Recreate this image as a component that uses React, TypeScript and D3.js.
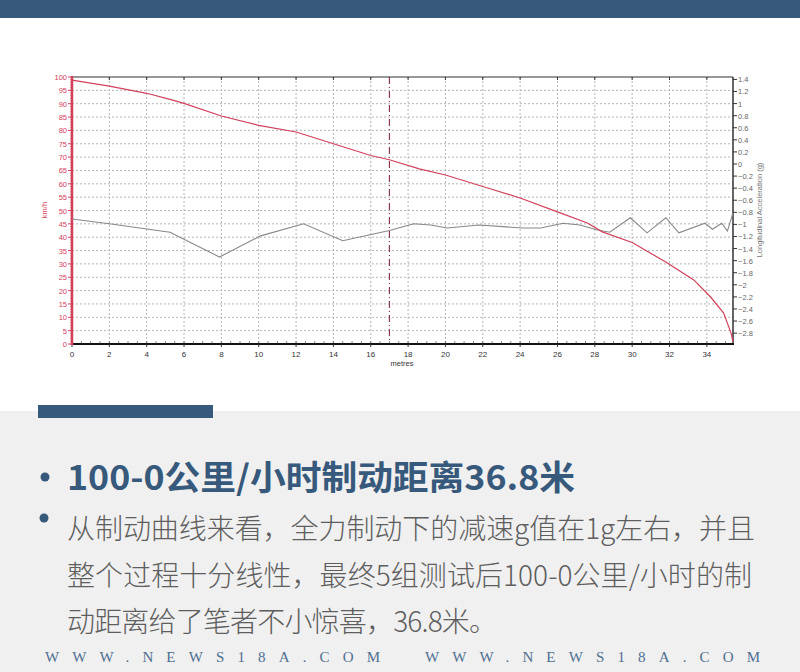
import React from "react";
import * as d3 from "d3";

// ---- data ----
const speedDist = [0, 2, 4, 5.25, 6, 8, 10, 12, 14, 16, 17, 18.6, 20, 22, 24, 26, 27.6, 28.4, 30, 31.8, 33.3, 34.2, 34.9, 35.3, 35.4];
const speedKmh = [98.8, 96.6, 93.9, 91.6, 90.1, 85.4, 81.9, 79.4, 75, 70.6, 69, 65.6, 63.3, 59, 54.7, 49.5, 45.3, 42, 38, 30.7, 24, 17.6, 11.6, 4, 0.8];
const accDist = [0, 2, 5.25, 7.9, 10.1, 12.4, 14.5, 17, 18.3, 19.2, 20.1, 21.8, 24.1, 25.1, 26.3, 27.2, 28.1, 28.8, 29.9, 30.8, 31.8, 32.5, 33.9, 34.3, 34.8, 35.1, 35.4];
const accG = [-0.91, -0.99, -1.13, -1.54, -1.19, -0.99, -1.27, -1.1, -0.99, -1.01, -1.06, -1.01, -1.06, -1.06, -0.98, -1.01, -1.09, -1.13, -0.89, -1.14, -0.89, -1.14, -0.98, -1.08, -0.98, -1.11, -0.81];
const xTicks = [0, 2, 4, 6, 8, 10, 12, 14, 16, 18, 20, 22, 24, 26, 28, 30, 32, 34];
const leftTicks = [0, 5, 10, 15, 20, 25, 30, 35, 40, 45, 50, 55, 60, 65, 70, 75, 80, 85, 90, 95, 100];
const rightTicks = [1.4, 1.2, 1, 0.8, 0.6, 0.4, 0.2, 0, -0.2, -0.4, -0.6, -0.8, -1, -1.2, -1.4, -1.6, -1.8, -2, -2.2, -2.4, -2.6, -2.8];
const markerDist = 17;
const title = "100-0公里/小时制动距离36.8米";
const bodyLines = [
  "从制动曲线来看，全力制动下的减速g值在1g左右，并且",
  "整个过程十分线性，最终5组测试后100-0公里/小时的制",
  "动距离给了笔者不小惊喜，36.8米。",
];
const watermark = "WWW.NEWS18A.COM";

const NAVY = "#37597b";
const RED = "#d2405a";

export default function App() {
  const L = 72, R = 733, T = 77, B = 344;
  const x = d3.scaleLinear().domain([0, 35.4]).range([L, R]);
  const yL = d3.scaleLinear().domain([0, 100]).range([B, T]);
  const yR = d3.scaleLinear().domain([-2.98, 1.44]).range([B, T]);

  const speedLine = d3.line<number>().x((_, i) => x(speedDist[i])).y((d) => yL(d))(speedKmh) || "";
  const accLine = d3.line<number>().x((_, i) => x(accDist[i])).y((d) => yR(d))(accG) || "";
  const minor = d3.range(0, 35.4, 0.5);
  const chartFont = "'Liberation Sans', Arial, sans-serif";
  const lineW = [688, 685, 430];
  const lineY = [539, 586, 632];

  return (
    <svg width={800} height={672} style={{ position: "absolute", left: 0, top: 0 }}>
      <rect x={0} y={0} width={800} height={672} fill="#ffffff" />
      <rect x={0} y={411} width={800} height={261} fill="#f0f0f0" />
      <rect x={0} y={0} width={800} height={18} fill={NAVY} />
      <rect x={38} y={405} width={175} height={13} fill={NAVY} />

      {/* grid */}
      {leftTicks.filter((v) => v > 0 && v < 100).map((v) => (
        <line key={"h" + v} x1={L} x2={R} y1={yL(v)} y2={yL(v)} stroke="#b4b4b4" strokeWidth={1} strokeDasharray="2,2" />
      ))}
      {xTicks.filter((v) => v > 0).map((v) => (
        <line key={"v" + v} x1={x(v)} x2={x(v)} y1={T} y2={B} stroke="#b4b4b4" strokeWidth={1} strokeDasharray="2,2" />
      ))}
      {/* marker */}
      <line x1={x(markerDist)} x2={x(markerDist)} y1={T} y2={B} stroke="#8a3a4c" strokeWidth={1.2} strokeDasharray="7,3,1,3" />

      {/* frame */}
      <line x1={L} x2={R} y1={T} y2={T} stroke="#333" strokeWidth={1.2} />
      <line x1={R} x2={R} y1={T} y2={B} stroke="#333" strokeWidth={1.5} />
      <line x1={L} x2={R + 1} y1={B} y2={B} stroke="#111" strokeWidth={2} />
      {xTicks.map((v) => (
        <g key={"xt" + v}>
          <line x1={x(v)} x2={x(v)} y1={T} y2={T + 3} stroke="#333" />
          <line x1={x(v)} x2={x(v)} y1={B} y2={B + 3} stroke="#333" />
          <text x={x(v)} y={B + 13} fontSize={8} fontFamily={chartFont} fill="#333" textAnchor="middle">{v}</text>
        </g>
      ))}
      {minor.map((v) => (
        <line key={"mn" + v} x1={x(v)} x2={x(v)} y1={B - 3} y2={B} stroke="#333" strokeWidth={0.6} />
      ))}
      <text x={402} y={366} fontSize={7.5} fontFamily={chartFont} fill="#333" textAnchor="middle">metres</text>

      {/* left axis */}
      <line x1={L} x2={L} y1={T - 1} y2={B + 1} stroke={RED} strokeWidth={2.5} />
      {leftTicks.map((v) => (
        <g key={"lt" + v}>
          <line x1={L - 4} x2={L} y1={yL(v)} y2={yL(v)} stroke={RED} strokeWidth={1} />
          <text x={L - 5} y={yL(v) + 3} fontSize={7.5} fontFamily={chartFont} fill={RED} textAnchor="end">{v}</text>
        </g>
      ))}
      {d3.range(0, 100, 1).map((v) => (
        <line key={"lm" + v} x1={L - 2} x2={L} y1={yL(v)} y2={yL(v)} stroke={RED} strokeWidth={0.6} />
      ))}
      <text transform={`translate(47,210) rotate(-90)`} fontSize={7.5} fontFamily={chartFont} fill={RED} textAnchor="middle">km/h</text>

      {/* right axis */}
      {rightTicks.map((v) => (
        <g key={"rt" + v}>
          <line x1={R} x2={R + 4} y1={yR(v)} y2={yR(v)} stroke="#333" strokeWidth={1} />
          <text x={R + 5} y={yR(v) + 3} fontSize={7.5} fontFamily={chartFont} fill="#666">{d3.format("")(+v.toFixed(1))}</text>
        </g>
      ))}
      <text transform={`translate(762,210) rotate(-90)`} fontSize={7.5} fontFamily={chartFont} fill="#777" textAnchor="middle">Longitudinal Acceleration (g)</text>

      {/* series */}
      <path d={accLine} fill="none" stroke="#888" strokeWidth={1.1} />
      <path d={speedLine} fill="none" stroke={RED} strokeWidth={1.2} />

      {/* text block */}
      <circle cx={45} cy={477} r={4.5} fill={NAVY} />
      <text x={67} y={490} fontSize={34} fontWeight={700} fontFamily="'Noto Sans CJK SC', sans-serif" fill={NAVY} textLength={508} lengthAdjust="spacingAndGlyphs">{title}</text>
      <circle cx={44} cy={518} r={4.5} fill={NAVY} />
      {bodyLines.map((t, i) => (
        <text key={"b" + i} x={67} y={lineY[i]} fontSize={28} fontWeight={300} fontFamily="'Noto Sans CJK SC', sans-serif" fill="#5e5e5e" textLength={lineW[i]}>{t}</text>
      ))}
      <text x={45} y={662} fontSize={15} fontFamily="'Liberation Serif', serif" fill="#4f6f90" textLength={335}>{watermark}</text>
      <text x={425} y={662} fontSize={15} fontFamily="'Liberation Serif', serif" fill="#4f6f90" textLength={335}>{watermark}</text>
    </svg>
  );
}
